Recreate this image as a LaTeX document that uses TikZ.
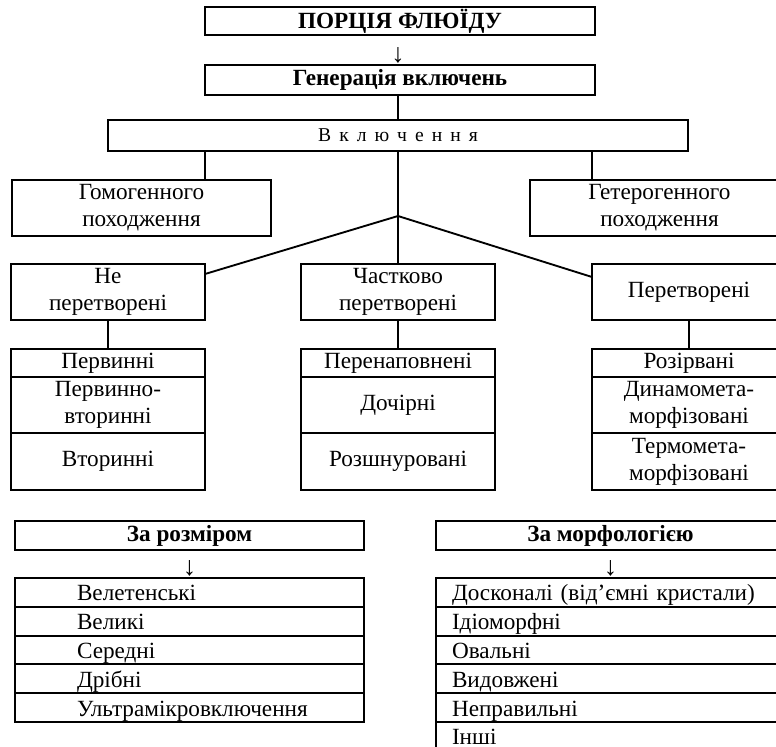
\documentclass[tikz,border=0pt]{standalone}
\usepackage{fontspec}
\setmainfont{Liberation Serif}
\usetikzlibrary{positioning,calc}

\begin{document}
\begin{tikzpicture}[x=0.75pt,y=0.75pt,yscale=-1,xscale=1,line width=1.4pt,
  txt/.style={font=\fontsize{17.4}{20.25}\selectfont},
  arrowtxt/.style={font=\fontsize{20}{20}\selectfont,inner sep=0pt},
  box/.style={txt,draw,inner sep=0pt,outer sep=0pt,align=center},
  headbox/.style={box,font=\fontsize{17.4}{20.25}\selectfont\bfseries},
  grpbox/.style={box,minimum width=194.25pt,minimum height=42pt},
  midbox/.style={box,minimum width=145.5pt,minimum height=42pt},
  cell/.style={box,minimum width=145.5pt},
  listrow/.style={txt,draw,text width=257.75pt,inner xsep=2pt,inner ysep=0pt,outer sep=0pt,
    text height=17.1pt,text depth=4.5pt,minimum height=21.6pt,align=left},
  sizerow/.style={listrow,execute at begin node=\hspace*{44.5pt}},
  morphrow/.style={listrow,execute at begin node=\hspace*{10pt}}]
\useasboundingbox (0,0) rectangle (776,747);
\clip (0,0) rectangle (776,747);

% head of the scheme
\node[headbox,minimum width=292.5pt,minimum height=21pt] (porc) at (400,21) {ПОРЦІЯ ФЛЮЇДУ};
\node[arrowtxt] (arr1) at (398,55.5) {↓};
\node[headbox,minimum width=292.5pt,minimum height=22.5pt] (gen) at (400,80) {Генерація включень};
\node[box,minimum width=435pt,minimum height=23.25pt,font=\fontsize{14.7}{17}\selectfont] (vkl) at (398,135.5) {\spaceskip=6pt В к л ю ч е н н я};

% origin
\node[grpbox] (homo) at (141.5,208) {Гомогенного\\походження};
\node[grpbox] (hetero) at (659.5,208) {Гетерогенного\\походження};

% state
\node[midbox] (ne) at (108,292) {Не\\перетворені};
\node[midbox] (chast) at (398,292) {Частково\\перетворені};
\node[midbox] (per) at (689,292) {Перетворені};

\node[cell,minimum height=21pt] (ne1) at (108,363) {Первинні};
\node[cell,minimum height=42pt,below=0pt of ne1] (ne2) {Первинно-\\вторинні};
\node[cell,minimum height=42.75pt,below=0pt of ne2] (ne3) {Вторинні};

\node[cell,minimum height=21pt] (ch1) at (398,363) {Перенаповнені};
\node[cell,minimum height=42pt,below=0pt of ch1] (ch2) {Дочірні};
\node[cell,minimum height=42.75pt,below=0pt of ch2] (ch3) {Розшнуровані};

\node[cell,minimum height=21pt] (pe1) at (689,363) {Розірвані};
\node[cell,minimum height=42pt,below=0pt of pe1] (pe2) {Динамомета-\\морфізовані};
\node[cell,minimum height=42.75pt,below=0pt of pe2] (pe3) {Термомета-\\морфізовані};

% connectors
\draw (vkl.north) -- (vkl.north |- gen.south);
\draw (vkl.south -| ne.east) -- (homo.north -| ne.east);
\draw (vkl.south -| per.west) -- (hetero.north -| per.west);
\draw (vkl.south) -- (chast.north);
\coordinate (fork) at (398,216);
\draw ($(ne.north east)+(0,10)$) -- (fork) -- ($(per.north west)+(0,13)$);
\draw (ne.south) -- (ne1.north);
\draw (chast.south) -- (ch1.north);
\draw (per.south) -- (pe1.north);

% by size
\node[headbox,minimum width=261.75pt,minimum height=21.75pt] (rozm) at (189.5,535.5) {За розміром};
\node[arrowtxt] (arr2) at (189.5,568) {↓};
\node[sizerow] (s1) at (189.5,592.4) {Велетенські};
\node[sizerow,below=0pt of s1] (s2) {Великі};
\node[sizerow,below=0pt of s2] (s3) {Середні};
\node[sizerow,below=0pt of s3] (s4) {Дрібні};
\node[sizerow,below=0pt of s4] (s5) {Ультрамікровключення};

% by morphology
\node[headbox,minimum width=261.75pt,minimum height=21.75pt] (morph) at (610.5,535.5) {За морфологією};
\node[arrowtxt] (arr3) at (610.5,568) {↓};
\node[morphrow] (m1) at (610.5,592.4) {Досконалі (від’ємні кристали)};
\node[morphrow,below=0pt of m1] (m2) {Ідіоморфні};
\node[morphrow,below=0pt of m2] (m3) {Овальні};
\node[morphrow,below=0pt of m3] (m4) {Видовжені};
\node[morphrow,below=0pt of m4] (m5) {Неправильні};
\node[morphrow,below=0pt of m5] (m6) {Інші};

\end{tikzpicture}
\end{document}
